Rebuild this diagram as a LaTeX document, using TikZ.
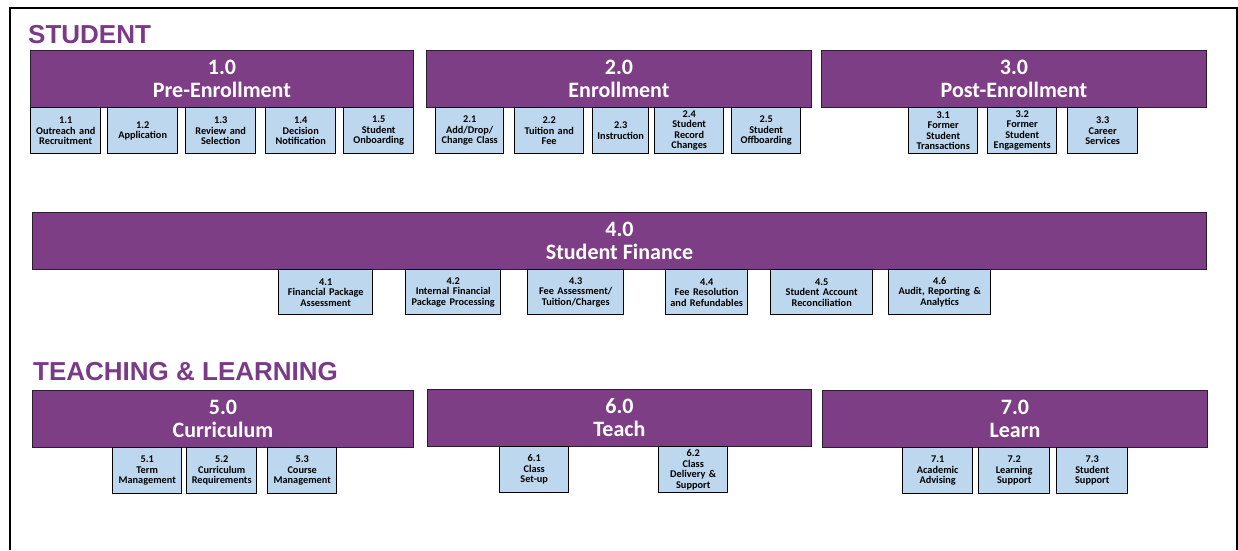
\documentclass[tikz,border=0pt]{standalone}
\usepackage{fontspec}
\setmainfont{Carlito}
\newfontfamily\headfont{Liberation Sans}
\usetikzlibrary{positioning}
\definecolor{plumpurple}{RGB}{126, 62, 133}
\definecolor{headpurple}{RGB}{122, 58, 136}
\definecolor{paleblue}{RGB}{189, 215, 238}
\definecolor{edgegrey}{RGB}{40, 30, 45}

\begin{document}
\begin{tikzpicture}[
    x=1pt, y=-1pt,
    heading/.style={
        anchor=base west,
        inner sep=0pt,
        text=headpurple,
        font=\headfont\bfseries\fontsize{26}{28}\selectfont
    },
    process/.style={
        draw=edgegrey,
        fill=plumpurple,
        line width=0.9pt,
        anchor=north west,
        inner sep=0pt,
        align=center,
        text=white,
        font=\bfseries\fontsize{22}{23}\selectfont,
        minimum width=#1,
        minimum height=57
    },
    subprocess/.style={
        draw=black,
        fill=paleblue,
        line width=1.4pt,
        anchor=north west,
        inner xsep=0pt,
        inner ysep=1pt,
        align=center,
        text width=#1pt,
        minimum height=46,
        font=\bfseries\fontsize{10.3}{10.5}\selectfont
    }
]

    \useasboundingbox (0,0) rectangle (1238,550);

    % Page frame (open at the bottom)
    \draw[line width=2pt] (10,550) |- (1237,8) -- (1237,550);

    % 1. Student: pre-enrollment, enrollment, post-enrollment
    \node[heading] (studenthead) at (28,43) {STUDENT};

    \node[process=383] (preenrol) at (30,50) {1.0\\Pre-Enrollment};
    \node[process=385] (enrol) at (426,50) {2.0\\Enrollment};
    \node[process=385] (postenrol) at (821,50) {3.0\\Post-Enrollment};

    \node[subprocess=70] (outreach) at (30,107) {1.1\\Outreach and\\Recruitment};
    \node[subprocess=70] (application) at (107,107) {1.2\\Application};
    \node[subprocess=70] (review) at (185,107) {1.3\\Review and\\Selection};
    \node[subprocess=70] (decision) at (265,107) {1.4\\Decision\\Notification};
    \node[subprocess=70] (onboard) at (343,107) {1.5\\Student\\Onboarding};

    \node[subprocess=68] (adddrop) at (435,107) {2.1\\Add/Drop/\\Change Class};
    \node[subprocess=69] (tuition) at (514,107) {2.2\\Tuition and\\Fee};
    \node[subprocess=56] (instruction) at (592,107) {2.3\\Instruction};
    \node[subprocess=69] (record) at (654,107) {2.4\\Student\\Record\\Changes};
    \node[subprocess=69] (offboard) at (731,107) {2.5\\Student\\Offboarding};

    \node[subprocess=69] (formertrans) at (908,107) {3.1\\Former\\Student\\Transactions};
    \node[subprocess=69] (formerengage) at (987,107) {3.2\\Former\\Student\\Engagements};
    \node[subprocess=70] (career) at (1067,107) {3.3\\Career\\Services};

    % 2. Student finance
    \node[process=1174] (finance) at (32,212) {4.0\\Student Finance};

    \node[subprocess=94, minimum height=45] (finpackage) at (278,269) {4.1\\Financial Package\\Assessment};
    \node[subprocess=95, minimum height=45] (internal) at (405,269) {4.2\\Internal Financial\\Package Processing};
    \node[subprocess=96, minimum height=45] (feeassess) at (527,269) {4.3\\Fee Assessment/\\Tuition/Charges};
    \node[subprocess=82, minimum height=45] (feeresol) at (665,269) {4.4\\Fee Resolution\\and Refundables};
    \node[subprocess=102, minimum height=45] (account) at (770,269) {4.5\\Student Account\\Reconciliation};
    \node[subprocess=102, minimum height=45] (audit) at (888,269) {4.6\\Audit, Reporting \&\\Analytics};

    % 3. Teaching and learning
    \node[heading] (teachhead) at (33,380) {TEACHING \& LEARNING};

    \node[process=381] (curriculum) at (32,390) {5.0\\Curriculum};
    \node[process=384] (teach) at (427,389) {6.0\\Teach};
    \node[process=385] (learn) at (822,390) {7.0\\Learn};

    \node[subprocess=69] (term) at (112,447) {5.1\\Term\\Management};
    \node[subprocess=70] (requirements) at (186,447) {5.2\\Curriculum\\Requirements};
    \node[subprocess=69] (course) at (267,447) {5.3\\Course\\Management};

    \node[subprocess=69] (setup) at (499,446) {6.1\\Class\\Set-up};
    \node[subprocess=69] (delivery) at (658,446) {6.2\\Class\\Delivery \&\\Support};

    \node[subprocess=70] (advising) at (902,447) {7.1\\Academic\\Advising};
    \node[subprocess=71] (learnsupport) at (978,447) {7.2\\Learning\\Support};
    \node[subprocess=71] (studsupport) at (1056,447) {7.3\\Student\\Support};

\end{tikzpicture}
\end{document}
